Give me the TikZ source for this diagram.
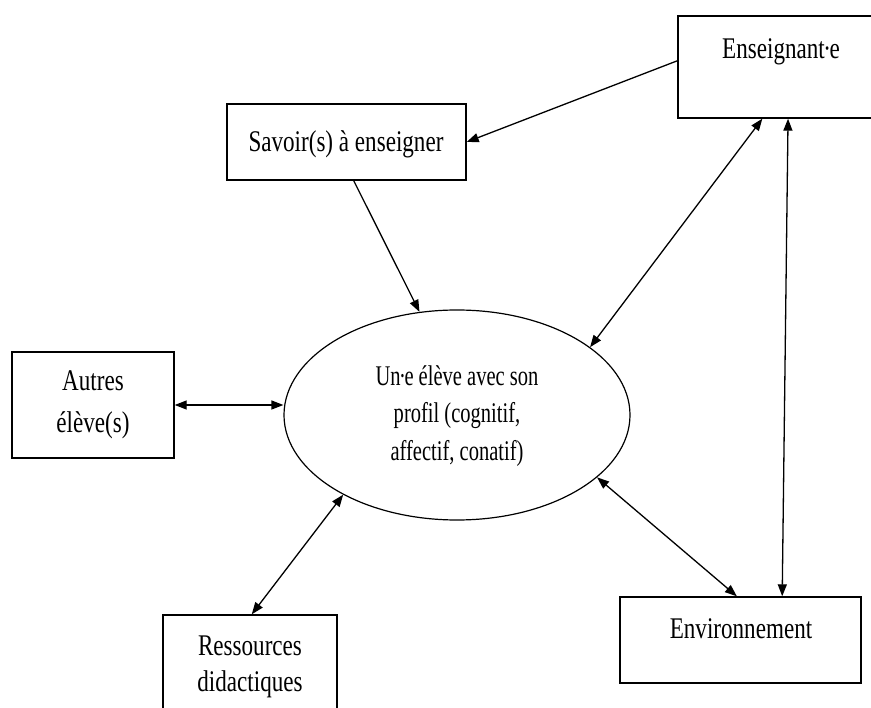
\documentclass[tikz,border=0pt]{standalone}
\usepackage{fontspec}
\setmainfont{Liberation Serif}[FakeStretch=0.77]
\newfontfamily\ellfont{Liberation Serif}[FakeStretch=0.72]
\usetikzlibrary{arrows.meta,calc,shapes.geometric}

% tight middle dot for inclusive writing
\newcommand\mdot{\kern-1.5pt·\kern-1.5pt}

\tikzset{
  box/.style={draw, line width=1.4pt, rectangle, inner sep=0pt},
  lbl/.style={inner sep=0pt, align=center, font=\fontsize{30}{#1}\selectfont},
  lbl/.default=40,
  link/.style={line width=1.3pt, -{Triangle[length=12pt,width=9pt]}},
  both/.style={line width=1.3pt, {Triangle[length=12pt,width=9pt]}-{Triangle[length=12pt,width=9pt]}},
}

\begin{document}
\begin{tikzpicture}[x=1pt,y=-1pt]
\useasboundingbox (0,0) rectangle (871,708);

% frames
\node[box, minimum width=206pt, minimum height=102pt] (ens) at (781,67) {};
\node[box, minimum width=239pt, minimum height=76pt] (sav) at (346.5,142) {};
\node[box, minimum width=162pt, minimum height=106pt] (aut) at (93,405) {};
\node[box, minimum width=174pt, minimum height=105pt] (res) at (250,667.5) {};
\node[box, minimum width=241pt, minimum height=86pt] (env) at (740.5,640) {};
\node[draw, line width=1.2pt, ellipse, inner sep=0pt,
      minimum width=346pt, minimum height=210pt] (ell) at (457,415) {};

% texts
\node[lbl] (ens-t) at (781,52) {Enseignant\mdot e};
\node[lbl] (sav-t) at (346,144) {Savoir(s) à enseigner};
\node[lbl=42] (aut-t) at (93,405) {Autres\\élève(s)};
\node[lbl=36] (res-t) at (250,667) {Ressources\\didactiques};
\node[lbl] (env-t) at (741,629) {Environnement};
\node[lbl, font=\ellfont\fontsize{28.5}{37.5}\selectfont] (ell-t) at (457,416)
  {Un\mdot e élève avec son\\profil (cognitif,\\affectif, conatif)};

% connectors
\draw[link] ($(ens.north west)!0.44!(ens.south west)$) -- (sav.east);
\draw[link] ($(sav.south west)!0.53!(sav.south east)$) -- (ell.110);
\draw[both] ($(ens.south west)!0.41!(ens.south east)$) -- (ell.27);
\draw[both] ($(ens.south west)!0.534!(ens.south east)$) -- ($(env.north west)!0.672!(env.north east)$);
\draw[both] (ell.-24) -- ($(env.north west)!0.485!(env.north east)$);
\draw[both] (ell.215) -- ($(res.north west)!0.51!(res.north east)$);
\draw[both] (aut.east) -- (aut.east -| ell.west);
\end{tikzpicture}
\end{document}
